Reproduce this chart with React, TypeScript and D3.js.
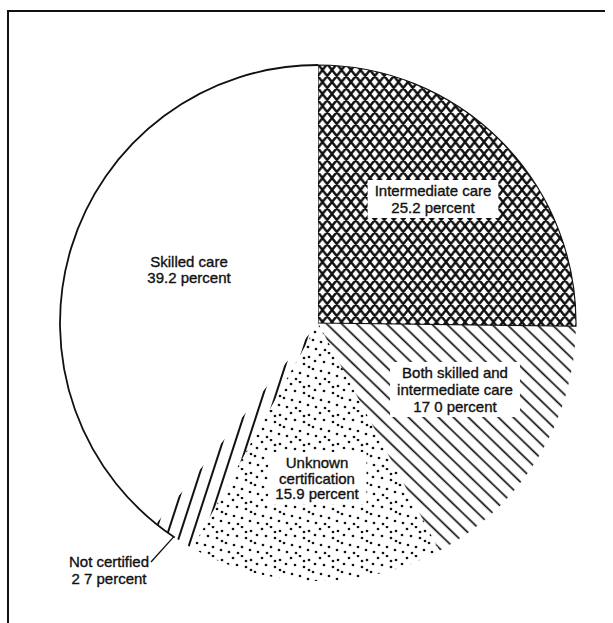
import React, { useRef, useEffect } from 'react';
import * as d3 from 'd3';

// Nursing home certification shares (percent), clockwise from 12 o'clock
const categories = [
  'Intermediate care',
  'Both skilled and intermediate care',
  'Unknown certification',
  'Not certified',
  'Skilled care',
];
const percents = [25.2, 17.0, 15.9, 2.7, 39.2];
const labelLines = [
  ['Intermediate care', '25.2 percent'],
  ['Both skilled and', 'intermediate care', '17 0 percent'],
  ['Unknown', 'certification', '15.9 percent'],
  ['Not certified', '2 7 percent'],
  ['Skilled care', '39.2 percent'],
];

const App = () => {
  const svgRef = useRef<SVGSVGElement | null>(null);

  useEffect(() => {
    const width = 613;
    const height = 623;
    const cx = 318;
    const cy = 323;
    const radius = 258;

    const svg = d3.select(svgRef.current)
      .attr('width', width)
      .attr('height', height)
      .attr('viewBox', `0 0 ${width} ${height}`);

    svg.selectAll('*').remove();

    svg.append('rect').attr('width', width).attr('height', height).attr('fill', '#fff');

    // frame
    svg.append('path')
      .attr('d', `M8,${height} L8,11 L605,11`)
      .attr('fill', 'none')
      .attr('stroke', '#111')
      .attr('stroke-width', 2);

    const defs = svg.append('defs');

    // crosshatch (diamonds)
    const cw = 9.5, ch = 12;
    let crossD = '';
    for (const dx of [-cw, 0, cw]) {
      for (const dy of [-ch, 0, ch]) {
        crossD += `M${dx},${dy}L${dx + cw},${dy + ch}M${dx + cw},${dy}L${dx},${dy + ch}`;
      }
    }
    defs.append('pattern')
      .attr('id', 'cross')
      .attr('patternUnits', 'userSpaceOnUse')
      .attr('x', cx).attr('y', cy)
      .attr('width', cw).attr('height', ch)
      .append('path')
      .attr('d', crossD)
      .attr('stroke', '#111')
      .attr('stroke-width', 2.4)
      .attr('fill', 'none');

    // diagonal lines down to the right
    const diag = defs.append('pattern')
      .attr('id', 'diag')
      .attr('patternUnits', 'userSpaceOnUse')
      .attr('width', 10).attr('height', 10.4)
      .attr('patternTransform', 'rotate(44)');
    diag.append('line')
      .attr('x1', 0).attr('x2', 10).attr('y1', 5).attr('y2', 5)
      .attr('stroke', '#111').attr('stroke-width', 1.7);

    // steep lines up to the right
    const steep = defs.append('pattern')
      .attr('id', 'steep')
      .attr('patternUnits', 'userSpaceOnUse')
      .attr('width', 40).attr('height', 12)
      .attr('patternTransform', 'rotate(-72)');
    steep.append('line')
      .attr('x1', 0).attr('x2', 40).attr('y1', 6).attr('y2', 6)
      .attr('stroke', '#111').attr('stroke-width', 1.8);

    // stipple
    const dots = [
      [2, 3], [11, 1], [20, 5], [26, 9], [6, 10], [15, 12], [24, 17],
      [3, 19], [11, 21], [19, 24], [27, 26], [7, 27], [15, 6], [20, 15],
    ];
    const stip = defs.append('pattern')
      .attr('id', 'dots')
      .attr('patternUnits', 'userSpaceOnUse')
      .attr('width', 29).attr('height', 29);
    stip.selectAll('circle')
      .data(dots)
      .join('circle')
      .attr('cx', d => d[0])
      .attr('cy', d => d[1])
      .attr('r', 1.35)
      .attr('fill', '#111');

    const fills = ['url(#cross)', 'url(#diag)', 'url(#dots)', 'url(#steep)', '#fff'];

    const pie = d3.pie<number>().sort(null).value(d => d);
    const arcs = pie(percents);
    const arc = d3.arc<d3.PieArcDatum<number>>().innerRadius(0).outerRadius(radius);

    const g = svg.append('g').attr('transform', `translate(${cx},${cy})`);

    g.selectAll('path.slice')
      .data(arcs)
      .join('path')
      .attr('class', 'slice')
      .attr('d', arc)
      .attr('fill', (d, i) => fills[i])
      .attr('stroke', (d, i) => (i === 0 ? '#111' : 'none'))
      .attr('stroke-width', 1.2);

    // outer outline over the white and not-certified slices
    const outline = d3.arc().innerRadius(radius).outerRadius(radius);
    g.append('path')
      .attr('d', outline({
        startAngle: arcs[3].startAngle + 0.08,
        endAngle: arcs[4].endAngle,
      } as any))
      .attr('fill', 'none')
      .attr('stroke', '#111')
      .attr('stroke-width', 1.8);

    // labels (centre of first line, line spacing)
    const labelPos = [
      { x: 433, y: 191, dy: 17, box: true },
      { x: 455, y: 373, dy: 17, box: true },
      { x: 317, y: 463, dy: 15.5, box: true },
      { x: 109, y: 562, dy: 17, box: false },
      { x: 189, y: 262, dy: 15.5, box: false },
    ];

    labelLines.forEach((lines, i) => {
      const p = labelPos[i];
      const lg = svg.append('g');
      const rect = lg.append('rect').attr('fill', '#fff');
      const text = lg.append('text')
        .attr('text-anchor', 'middle')
        .attr('font-family', '"Liberation Sans", Arial, sans-serif')
        .attr('font-size', 15)
        .attr('fill', '#111')
        .attr('stroke', '#111')
        .attr('stroke-width', 0.35);
      lines.forEach((t, j) => {
        text.append('tspan')
          .attr('x', p.x)
          .attr('y', p.y + 5 + j * p.dy)
          .text(t);
      });
      if (p.box) {
        const bb = (text.node() as SVGTextElement).getBBox();
        rect
          .attr('x', bb.x - 7)
          .attr('y', bb.y - 2)
          .attr('width', bb.width + 14)
          .attr('height', bb.height + 4);
      } else {
        rect.remove();
      }
    });

    // leader for "Not certified"
    const nc = arcs[3];
    const mid = (nc.startAngle + nc.endAngle) / 2;
    const lineGen = d3.line();
    svg.append('path')
      .attr('d', lineGen([
        [151, 562],
        [cx + Math.sin(mid) * radius, cy - Math.cos(mid) * radius],
      ]))
      .attr('fill', 'none')
      .attr('stroke', '#111')
      .attr('stroke-width', 1.3);
  }, []);

  return (
    <svg ref={svgRef} style={{ position: 'absolute', left: 0, top: 0 }}></svg>
  );
};

export default App;
